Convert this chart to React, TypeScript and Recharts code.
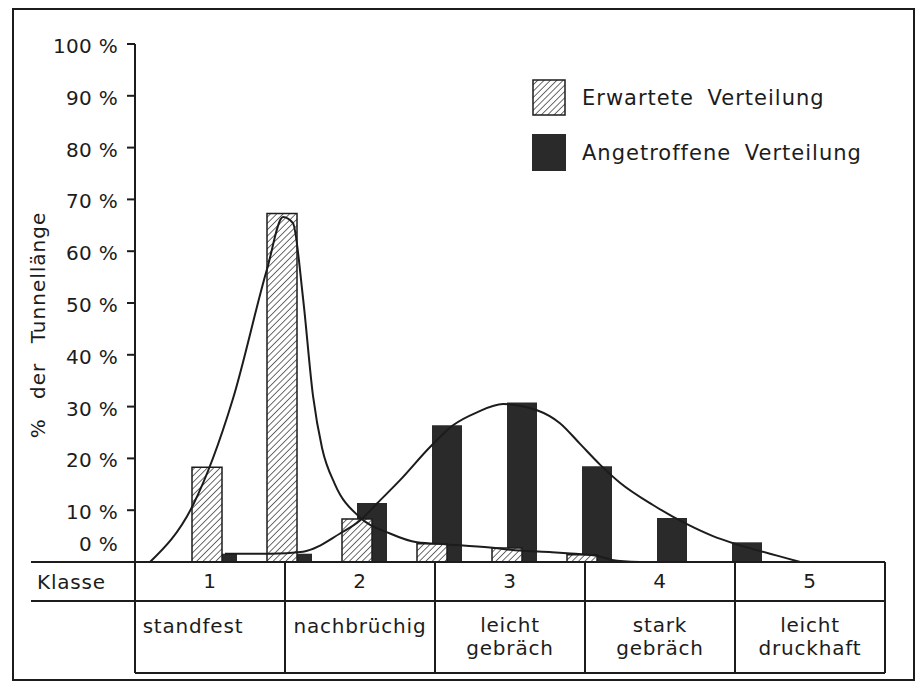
import { ComposedChart, Bar, Line, XAxis, YAxis, Legend, Label } from "recharts";

// half-class positions along the x axis (class centre and class border)
const positionen = ["1", "1.5", "2", "2.5", "3", "3.5", "4", "4.5", "5"];
const erwartet = [18.3, 67.3, 8.3, 3.5, 2.7, 1.4, null, null, null];
const angetroffen = [1.6, 1.6, 11.4, 26.4, 30.8, 18.5, 8.5, 3.8, null];

// freehand curves (x in class units, y in %)
const erwartetKurveX = [0.6, 0.887, 1.153, 1.38, 1.487, 1.553, 1.62, 1.687, 1.747, 1.833, 2.0, 2.2, 2.38, 2.58, 2.867, 3.067, 3.28, 3.38, 3.58, 3.68, 3.867];
const erwartetKurveY = [0, 11, 31.5, 56.5, 66.6, 65.4, 51, 32, 22, 15, 8.6, 5.5, 3.8, 3.4, 2.8, 2.2, 1.9, 1.7, 1.2, 0.4, 0];

const angetroffenKurveX = [1.1, 1.4, 1.62, 1.867, 2.0, 2.113, 2.267, 2.467, 2.62, 2.78, 2.953, 3.18, 3.333, 3.467, 3.6, 3.733, 3.953, 4.18, 4.353, 4.513, 4.733, 4.847, 4.933];
const angetroffenKurveY = [1.6, 1.6, 2.0, 5.5, 8, 11.3, 15.8, 22.2, 26.4, 28.9, 30.5, 29.3, 26.8, 22.8, 18.8, 15.3, 11, 7.3, 5.0, 3.4, 1.6, 0.7, 0];

const klassen = [1, 2, 3, 4, 5];
const klassenText = [["standfest"], ["nachbrüchig"], ["leicht", "gebräch"], ["stark", "gebräch"], ["leicht", "druckhaft"]];
const yTicks = [0, 10, 20, 30, 40, 50, 60, 70, 80, 90, 100];

const INK = "#1c1c1c";
const FONT = "'DejaVu Sans', sans-serif";
const CELL = 150;

const barData = positionen.map((pos, i) => ({ pos, erwartet: erwartet[i], angetroffen: angetroffen[i] }));
const erwartetKurve = erwartetKurveX.map((x, i) => ({ x, y: erwartetKurveY[i] }));
const angetroffenKurve = angetroffenKurveX.map((x, i) => ({ x, y: angetroffenKurveY[i] }));

function YTick({ x, y, payload }: any) {
  const zero = payload.value === 0;
  return (
    <g>
      {!zero && <line x1={x - 8} x2={x} y1={y} y2={y} stroke={INK} strokeWidth={2} />}
      <text x={x - 17} y={zero ? y - 11 : y + 9} textAnchor="end" fontSize={20} fontFamily={FONT} fill={INK} letterSpacing={0.3}>
        {`${payload.value} %`}
      </text>
    </g>
  );
}

function YTitle({ viewBox }: any) {
  const cx = viewBox.x + 10;
  const cy = viewBox.y + viewBox.height / 2 + 22;
  return (
    <text
      transform={`translate(${cx},${cy}) rotate(-90)`}
      textAnchor="middle"
      fontSize={20}
      fontFamily={FONT}
      fill={INK}
      letterSpacing={1}
      wordSpacing={12}
    >
      % der Tunnellänge
    </text>
  );
}

function TableTick({ x, y, payload }: any) {
  const half = CELL / 2;
  const lines = klassenText[payload.value - 1];
  const ln = { stroke: INK, strokeWidth: 2 };
  const txt = { fontSize: 20, fontFamily: FONT, fill: INK, textAnchor: "middle" as const, letterSpacing: 0.8 };
  const dx = payload.value === 1 ? -17 : 0;
  return (
    <g>
      <line x1={x - half} x2={x + half} y1={y} y2={y} {...ln} />
      <line x1={x - half} x2={x + half} y1={y + 39} y2={y + 39} {...ln} />
      <line x1={x - half} x2={x + half} y1={y + 111} y2={y + 111} {...ln} />
      <line x1={x - half} x2={x - half} y1={y} y2={y + 111} {...ln} />
      <line x1={x + half} x2={x + half} y1={y} y2={y + 111} {...ln} />
      <text x={x} y={y + 26} {...txt}>{payload.value}</text>
      {lines.map((t: string, j: number) => (
        <text key={t + j} x={x + dx} y={y + (lines.length > 1 ? 70 : 71) + j * 23} {...txt}>{t}</text>
      ))}
      {payload.value === 1 && (
        <g>
          <line x1={31} x2={x - half} y1={y} y2={y} {...ln} />
          <line x1={31} x2={x - half} y1={y + 39} y2={y + 39} {...ln} />
          <text x={37} y={y + 27} {...txt} textAnchor="start">Klasse</text>
        </g>
      )}
    </g>
  );
}

function LegendBox() {
  const row = { display: "flex", alignItems: "center", height: 37, marginBottom: 18 };
  const label = { marginLeft: 16, fontSize: 21, fontFamily: FONT, color: INK, letterSpacing: 1, wordSpacing: 6 };
  return (
    <div>
      <div style={row}>
        <svg width={34} height={37}>
          <defs>
            <pattern id="hatchLegend" width={4.5} height={4.5} patternUnits="userSpaceOnUse" patternTransform="rotate(45)">
              <rect width={4.5} height={4.5} fill="#fff" />
              <line x1={0} y1={0} x2={0} y2={4.5} stroke={INK} strokeWidth={1.3} />
            </pattern>
          </defs>
          <rect x={1} y={1} width={32} height={35} fill="url(#hatchLegend)" stroke={INK} strokeWidth={1.5} />
        </svg>
        <span style={label}>Erwartete Verteilung</span>
      </div>
      <div style={row}>
        <svg width={34} height={37}>
          <rect x={0} y={0} width={34} height={37} fill="#2a2a2a" />
        </svg>
        <span style={label}>Angetroffene Verteilung</span>
      </div>
    </div>
  );
}

export default function App() {
  return (
    <div style={{ position: "absolute", left: 0, top: 0, width: 918, height: 690, background: "#fff" }}>
      <div style={{ position: "absolute", left: 12, top: 8, width: 899, height: 669, border: `2px solid ${INK}` }} />
      <div style={{ position: "absolute", left: 0, top: 0 }}>
        <ComposedChart width={918} height={690} data={barData} margin={{ top: 44, right: 33, bottom: 10, left: 35 }}>
          <defs>
            <pattern id="hatch" width={4.5} height={4.5} patternUnits="userSpaceOnUse" patternTransform="rotate(45)">
              <rect width={4.5} height={4.5} fill="#fff" />
              <line x1={0} y1={0} x2={0} y2={4.5} stroke={INK} strokeWidth={1.3} />
            </pattern>
          </defs>
          <XAxis
            xAxisId="num"
            dataKey="x"
            type="number"
            domain={[0.5, 5.5]}
            allowDataOverflow
            ticks={klassen}
            interval={0}
            height={118}
            axisLine={false}
            tickLine={false}
            tickSize={0}
            tickMargin={0}
            tick={<TableTick />}
          />
          <XAxis xAxisId="e" dataKey="pos" type="category" hide height={0} padding={{ left: 34, right: 41 }} />
          <XAxis xAxisId="a" dataKey="pos" type="category" hide height={0} padding={{ left: 49, right: 26 }} />
          <YAxis
            width={100}
            domain={[0, 100]}
            ticks={yTicks}
            interval={0}
            axisLine={{ stroke: INK, strokeWidth: 2 }}
            tickLine={false}
            tickSize={0}
            tickMargin={0}
            tick={<YTick />}
          >
            <Label content={<YTitle />} />
          </YAxis>
          <Legend
            layout="vertical"
            align="center"
            verticalAlign="middle"
            content={<LegendBox />}
            wrapperStyle={{ left: 532, top: 79, width: 360, height: 110 }}
          />
          <Bar xAxisId="a" dataKey="angetroffen" name="Angetroffene Verteilung" barSize={30} fill="#2a2a2a" isAnimationActive={false} />
          <Bar xAxisId="e" dataKey="erwartet" name="Erwartete Verteilung" barSize={30} fill="url(#hatch)" stroke={INK} strokeWidth={1.5} isAnimationActive={false} />
          <Line xAxisId="num" data={erwartetKurve} dataKey="y" type="monotone" stroke={INK} strokeWidth={2} dot={false} isAnimationActive={false} legendType="none" />
          <Line xAxisId="num" data={angetroffenKurve} dataKey="y" type="monotone" stroke={INK} strokeWidth={2} dot={false} isAnimationActive={false} legendType="none" />
        </ComposedChart>
      </div>
    </div>
  );
}
